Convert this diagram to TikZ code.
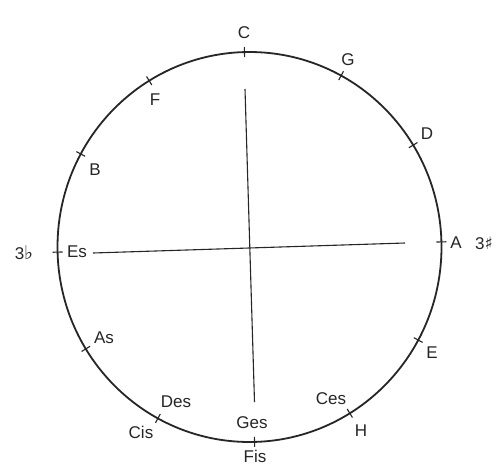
\documentclass[tikz,border=0pt]{standalone}
\usepackage{fontspec}
\setmainfont{Liberation Sans}
\newfontfamily\symfont{DejaVu Sans}
\definecolor{ink}{HTML}{262626}
\begin{document}
\begin{tikzpicture}[x=1pt,y=-1pt,
  lbl/.style={font=\fontsize{17}{17}\selectfont, text=ink, inner sep=0pt},
  ring/.style={draw=ink, line width=1.8pt},
  tickmark/.style={draw=ink, line width=1.1pt},
  crossline/.style={draw=ink, line width=1.1pt}]
\fill[white] (0,0) rectangle (504,467);
\useasboundingbox (0,0) rectangle (504,467);
\coordinate (ctr) at (249.5,247);
\draw[ring] (ctr) ellipse [x radius=192, y radius=195];
\foreach \a/\n in {91.5/C,61.5/G,31.5/D,1.5/A,-28.5/E,-58.5/H,-88.5/Fis,-118.5/Cis,-148.5/As,-178.5/Es,151.5/B,121.5/F}{
  \coordinate (ti\n) at ({249.5+187*cos(\a)},{247-190*sin(\a)});
  \coordinate (to\n) at ({249.5+197*cos(\a)},{247-200*sin(\a)});
  \draw[tickmark] (ti\n) -- (to\n);
}
\coordinate (vt) at (245,89);
\coordinate (vb) at (254.5,402);
\coordinate (hl) at (93,253);
\coordinate (hr) at (405,243);
\draw[crossline] (vt) -- (vb);
\draw[crossline] (hl) -- (hr);
\node[lbl] (lC) at (244,33) {C};
\node[lbl] (lG) at (348,60) {G};
\node[lbl] (lF) at (155,100) {F};
\node[lbl] (lD) at (427,134) {D};
\node[lbl] (lB) at (95,170) {B};
\node[lbl] (lEs) at (77,252) {Es};
\node[lbl] (lfl) at (24,253) {3{\symfont\fontsize{19}{19}\selectfont ♭}};
\node[lbl] (lA) at (456,243) {A};
\node[lbl] (lsh) at (484,243) {3{\symfont\fontsize{17}{17}\selectfont ♯}};
\node[lbl] (lAs) at (104,338) {As};
\node[lbl] (lE) at (432,353) {E};
\node[lbl] (lDes) at (176,402) {Des};
\node[lbl] (lCis) at (141,432) {Cis};
\node[lbl] (lGes) at (252,423) {Ges};
\node[lbl] (lFis) at (255,456) {Fis};
\node[lbl] (lCes) at (331,399) {Ces};
\node[lbl] (lH) at (361,431) {H};
\end{tikzpicture}
\end{document}
